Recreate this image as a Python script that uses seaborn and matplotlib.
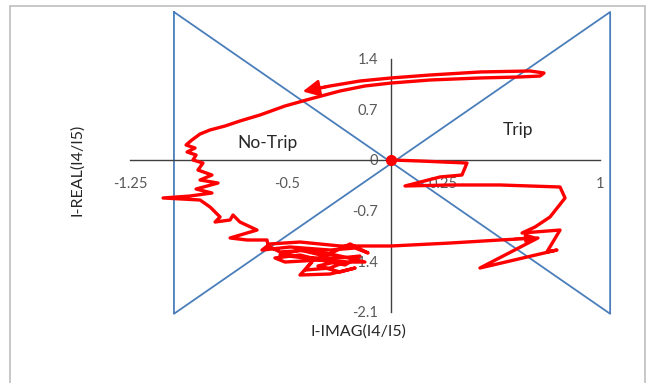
import numpy as np
import pandas as pd
import matplotlib
matplotlib.use("Agg")
import matplotlib.pyplot as plt
import seaborn as sns

# trajectory of I4/I5 (imag, real)
traj_x = [0, 0.139, 0.364, 0.340, 0.235, 0.067, 0.283, 0.522, 0.810, 0.834,
          0.762, 0.690, 0.628, 0.810, 0.747, 0.795, 0.426, 0.704,
          0.522, 0.283, 0, -0.244,
          -0.436, -0.580, -0.618, -0.484, -0.292, -0.172, -0.110, -0.196, -0.316, -0.436,
          -0.532, -0.412, -0.244, -0.149, -0.220, -0.340, -0.436, -0.556,
          -0.508, -0.340, -0.220, -0.292, -0.412, -0.379, -0.436, -0.292, -0.172, -0.244,
          -0.350, -0.268, -0.125,
          -0.244, -0.388, -0.532, -0.589,
          -0.594, -0.690, -0.771, -0.642, -0.724, -0.757, -0.771, -0.843, -0.819, -0.867,
          -0.915, -1.092, -0.963, -0.858, -0.934, -0.829, -0.915, -0.858, -0.925, -0.901,
          -0.949, -0.934, -0.977, -0.939, -0.982, -0.954, -0.915, -0.867, -0.795, -0.724,
          -0.628, -0.508, -0.388, -0.244, -0.125, 0, 0.187, 0.426, 0.618, 0.714,
          0.733, 0.666, 0.426, 0.187, 0, -0.149, -0.292, -0.364]
traj_y = [0, -0.014, -0.042, -0.208, -0.235, -0.360, -0.346, -0.346, -0.374, -0.526,
          -0.789, -0.928, -1.011, -0.970, -1.274, -1.247, -1.496, -1.080,
          -1.108, -1.150, -1.191, -1.191,
          -1.136, -1.163, -1.247, -1.205, -1.247, -1.219, -1.288, -1.163, -1.330, -1.247,
          -1.316, -1.357, -1.357, -1.330, -1.454, -1.385, -1.316, -1.357,
          -1.413, -1.385, -1.413, -1.496, -1.524, -1.413, -1.593, -1.579, -1.496, -1.551,
          -1.468, -1.413, -1.413,
          -1.330, -1.247, -1.274, -1.191,
          -1.108, -1.108, -1.080, -0.970, -0.859, -0.762, -0.831, -0.859, -0.789, -0.651,
          -0.554, -0.526, -0.499, -0.457, -0.402, -0.319, -0.277, -0.208, -0.139, -0.042,
          0, 0.069, 0.111, 0.166, 0.208, 0.277, 0.360, 0.416, 0.471, 0.540,
          0.623, 0.748, 0.845, 0.956, 1.025, 1.066, 1.108, 1.136, 1.150, 1.163,
          1.205, 1.233, 1.219, 1.177, 1.136, 1.094, 1.025, 0.983]

# trip / no-trip boundary (bowtie)
zone_x = [-1.04, 1.05, 1.05, -1.04, -1.04]
zone_y = [2.05, -2.13, 2.05, -2.13, 2.05]

xticks = [-1.25, -0.5, 0.25, 1]
xtick_labels = ["-1.25", "-0.5", "0.25", "1"]
yticks = [-2.1, -1.4, -0.7, 0, 0.7, 1.4]
ytick_labels = ["-2.1", "-1.4", "-0.7", "0", "0.7", "1.4"]

sns.set_style("white")
plt.rcParams["font.family"] = ["Lato", "DejaVu Sans"]

df = pd.DataFrame({"x": traj_x, "y": traj_y})
zone = pd.DataFrame({"x": zone_x, "y": zone_y})

fig = plt.figure(figsize=(6.48, 3.83), dpi=100)
ax = fig.add_axes([0, 0, 1, 1])
ax.set_xlim(-1.8735, 1.2314)
ax.set_ylim(-3.0886, 2.216)

sns.lineplot(data=zone, x="x", y="y", sort=False, estimator=None,
             color="#4a7ebb", linewidth=1.3, ax=ax, zorder=2)
sns.lineplot(data=df, x="x", y="y", sort=False, estimator=None,
             color="#ff0000", linewidth=2.4, ax=ax, zorder=3)
ax.plot([traj_x[0]], [traj_y[0]], "o", color="#ff0000", markersize=7, zorder=4)

# direction arrows
ax.annotate("", xy=(-0.436, 0.942), xytext=(-0.30, 1.02),
            arrowprops=dict(arrowstyle="-|>,head_length=1.0,head_width=0.5",
                            color="#ff0000", lw=2), zorder=5)
ax.annotate("", xy=(0.714, -1.066), xytext=(0.58, -1.095),
            arrowprops=dict(arrowstyle="-|>,head_length=0.6,head_width=0.25",
                            color="#ff0000", lw=2), zorder=5)

ax.text(-0.594, 0.235, "No-Trip", fontsize=12.5, ha="center", va="center")
ax.text(0.608, 0.416, "Trip", fontsize=12.5, ha="center", va="center")

# axes crossing at origin
for s in ["top", "right"]:
    ax.spines[s].set_visible(False)
ax.spines["left"].set_position(("data", 0))
ax.spines["bottom"].set_position(("data", 0))
ax.spines["left"].set_bounds(-2.1, 1.4)
ax.spines["bottom"].set_bounds(-1.25, 1)
for s in ["left", "bottom"]:
    ax.spines[s].set_color("#404040")
    ax.spines[s].set_linewidth(1.0)
ax.set_xticks(xticks)
ax.set_xticklabels(xtick_labels)
ax.set_yticks(yticks)
ax.set_yticklabels(ytick_labels)
ax.tick_params(axis="both", direction="inout", length=9, width=1.0,
               color="#202020", labelcolor="#595959", labelsize=10.5)
ax.tick_params(axis="x", pad=8)
ax.tick_params(axis="y", pad=5)
ax.set_xlabel("")
ax.set_ylabel("")
ax.patch.set_alpha(0)

fig.text(358 / 648, 1 - 332 / 383, "I-IMAG(I4/I5)", fontsize=11.5,
         ha="center", va="center")
fig.text(77 / 648, 1 - 170 / 383, "I-REAL(I4/I5)", fontsize=11.5,
         ha="center", va="center", rotation=90)

# chart border
fig.patches.append(plt.Rectangle((10 / 648, -0.1), 635 / 648, 1.1 - 6 / 383,
                                 transform=fig.transFigure, fill=False,
                                 edgecolor="#bfbfbf", linewidth=1.2))

fig.savefig("out.png", dpi=100)
